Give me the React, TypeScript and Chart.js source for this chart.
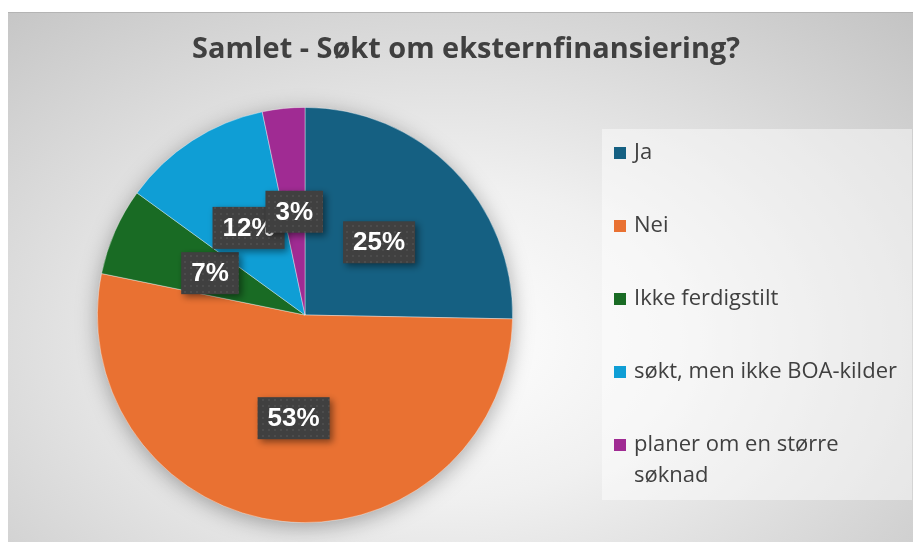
import React, { useEffect, useRef } from "react";
import { Chart, registerables } from "chart.js";
Chart.register(...registerables);

const titleText = "Samlet - Søkt om eksternfinansiering?";
const categories = ["Ja", "Nei", "Ikke ferdigstilt", "søkt, men ikke BOA-kilder", "planer om en større søknad"];
const values = [25.3, 52.9, 6.8, 11.7, 3.3];
const percentLabels = ["25%", "53%", "7%", "12%", "3%"];
const colors = ["#156082", "#E97132", "#196B24", "#0F9ED5", "#A02B93"];

const W = 905;
const H = 530;

function makePattern(ctx: CanvasRenderingContext2D) {
  const c = document.createElement("canvas");
  c.width = 6;
  c.height = 6;
  const p = c.getContext("2d")!;
  p.fillStyle = "#404040";
  p.fillRect(0, 0, 6, 6);
  p.fillStyle = "#4c4c4c";
  p.fillRect(2, 2, 2, 2);
  return ctx.createPattern(c, "repeat")!;
}

const decorPlugin = {
  id: "decor",
  beforeDatasetsDraw(chart: any) {
    const ctx: CanvasRenderingContext2D = chart.ctx;
    const arc = chart.getDatasetMeta(0).data[0];
    if (!arc) return;
    ctx.save();
    ctx.shadowColor = "rgba(0,0,0,0.35)";
    ctx.shadowBlur = 22;
    ctx.shadowOffsetX = 0;
    ctx.shadowOffsetY = 4;
    ctx.fillStyle = "#bbbbbb";
    ctx.beginPath();
    ctx.arc(arc.x, arc.y, arc.outerRadius - 1, 0, Math.PI * 2);
    ctx.fill();
    ctx.restore();
  },
  afterDatasetsDraw(chart: any) {
    const ctx: CanvasRenderingContext2D = chart.ctx;
    const meta = chart.getDatasetMeta(0);
    const pattern = makePattern(ctx);
    ctx.save();
    ctx.font = "bold 26px 'Liberation Sans', Arial, sans-serif";
    meta.data.forEach((arc: any, i: number) => {
      const pos = arc.tooltipPosition(false);
      const text = percentLabels[i];
      const tw = ctx.measureText(text).width;
      const bw = tw + 20;
      const bh = 42;
      const x = pos.x - bw / 2;
      const y = pos.y - bh / 2;
      ctx.save();
      ctx.shadowColor = "rgba(0,0,0,0.45)";
      ctx.shadowBlur = 7;
      ctx.shadowOffsetX = 3;
      ctx.shadowOffsetY = 3;
      ctx.fillStyle = pattern;
      ctx.fillRect(x, y, bw, bh);
      ctx.restore();
      ctx.fillStyle = "#ffffff";
      ctx.textAlign = "center";
      ctx.textBaseline = "middle";
      ctx.fillText(text, pos.x, pos.y + 1);
    });
    ctx.restore();
  },
  afterDraw(chart: any) {
    const ctx: CanvasRenderingContext2D = chart.ctx;
    ctx.save();
    // title
    ctx.fillStyle = "#404040";
    ctx.font = "bold 28px 'Open Sans', sans-serif";
    ctx.textAlign = "center";
    ctx.textBaseline = "middle";
    const tw = ctx.measureText(titleText).width;
    const sx = 548 / tw;
    ctx.translate(466 - 8, 37);
    ctx.scale(Math.min(sx, 1.3), 1);
    ctx.fillText(titleText, 0, 0);
    ctx.setTransform(1, 0, 0, 1, 0, 0);
    // legend box
    const lx = 594, ly = 116, lw = W - lx - 1, lh = 371;
    ctx.fillStyle = "rgba(255,255,255,0.45)";
    ctx.fillRect(lx, ly, lw, lh);
    ctx.font = "22px 'Open Sans', sans-serif";
    ctx.textAlign = "left";
    ctx.textBaseline = "middle";
    const maxW = 270;
    categories.forEach((label, i) => {
      const cy = 140 + i * 73;
      ctx.fillStyle = colors[i];
      ctx.fillRect(606, cy - 6, 12, 12);
      ctx.fillStyle = "#404040";
      const words = label.split(" ");
      const lines: string[] = [];
      let cur = "";
      words.forEach((w) => {
        const t = cur ? cur + " " + w : w;
        if (ctx.measureText(t).width > maxW && cur) {
          lines.push(cur);
          cur = w;
        } else cur = t;
      });
      lines.push(cur);
      lines.forEach((ln, j) => ctx.fillText(ln, 626, cy + j * 31));
    });
    ctx.restore();
  },
};

export default function App() {
  const ref = useRef<HTMLCanvasElement>(null);
  useEffect(() => {
    document.body.style.margin = "0";
    const ctx = ref.current!.getContext("2d")!;
    const chart = new Chart(ctx, {
      type: "pie",
      data: {
        labels: categories,
        datasets: [
          {
            data: values,
            backgroundColor: colors,
            borderColor: "rgba(255,255,255,0.5)",
            borderWidth: 0.75,
          },
        ],
      },
      options: {
        responsive: false,
        animation: false,
        layout: { padding: { left: 89, right: 400, top: 94, bottom: 20 } },
        plugins: {
          legend: { display: false },
          tooltip: { enabled: false },
          title: { display: false },
        },
      },
      plugins: [decorPlugin],
    });
    return () => chart.destroy();
  }, []);
  return (
    <div
      style={{
        position: "absolute",
        left: 8,
        top: 12,
        width: W,
        height: H,
        borderTop: "1px solid #b4b4b4",
        background: "radial-gradient(ellipse 75% 85% at 48% 62%, #ffffff 0%, #f0f0f0 35%, #c4c4c4 100%)",
      }}
    >
      <canvas ref={ref} width={W} height={H} style={{ display: "block", width: W, height: H }} />
    </div>
  );
}
